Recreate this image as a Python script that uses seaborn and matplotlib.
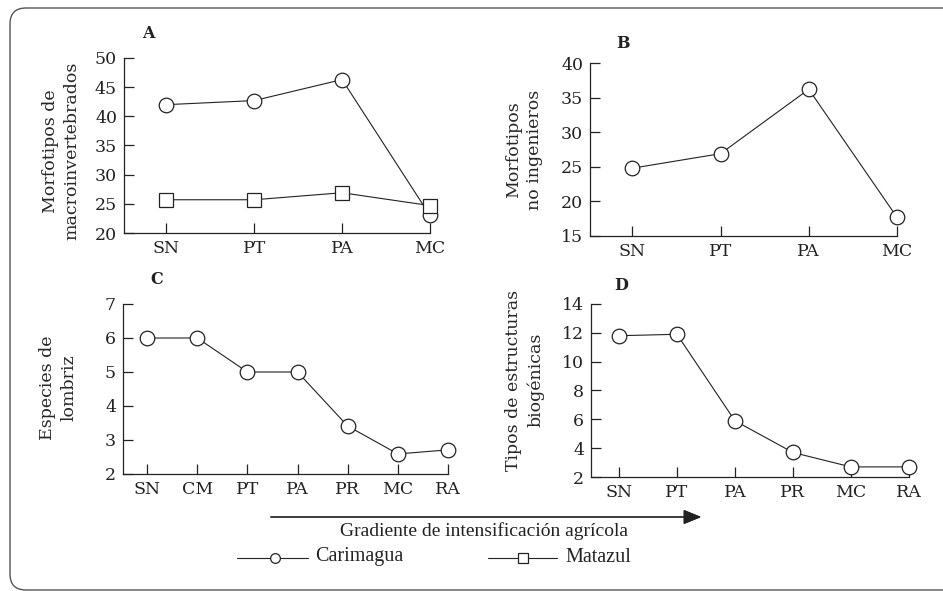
import pandas as pd
import seaborn as sns
import matplotlib.pyplot as plt
from matplotlib.lines import Line2D
from matplotlib.patches import FancyBboxPatch
from matplotlib.transforms import IdentityTransform

sns.set_style("ticks")
plt.rcParams['font.family'] = ['DejaVu Serif']
plt.rcParams['text.color'] = '#222222'

# Datos
sitios_ab = ["SN", "PT", "PA", "MC"]
carimagua_a = [42.0, 42.7, 46.3, 23.0]
matazul_a = [25.7, 25.7, 26.9, 24.7]
carimagua_b = [24.8, 26.9, 36.2, 17.7]

sitios_c = ["SN", "CM", "PT", "PA", "PR", "MC", "RA"]
carimagua_c = [6.0, 6.0, 5.0, 5.0, 3.41, 2.59, 2.71]

sitios_d = ["SN", "PT", "PA", "PR", "MC", "RA"]
carimagua_d = [11.8, 11.9, 5.9, 3.7, 2.7, 2.7]

FS = 12.5
W, H = 943, 591
INK = "#222222"


def fx(px):
    return px / W


def fy(py):
    return 1 - py / H


def make_ax(fig, left, top, right, bottom):
    return fig.add_axes([fx(left), fy(bottom), (right - left) / W, (bottom - top) / H])


def draw_panel(ax, df, ylim, yticks, ylabel, label_px, markers):
    sns.lineplot(data=df, x="sitio", y="valor", hue="serie", style="serie",
                 markers=markers, dashes=False, palette=[INK] * df["serie"].nunique(),
                 linewidth=0.8, markersize=10.5, markerfacecolor="white",
                 markeredgecolor=INK, markeredgewidth=0.9, sort=False,
                 legend=False, ax=ax)
    for ln in ax.lines:
        ln.set_clip_on(False)
    n = df["sitio"].nunique()
    ax.set_xlim(-0.48, n - 1)
    ax.set_ylim(*ylim)
    ax.set_yticks(yticks)
    ax.set_xlabel("")
    ax.set_ylabel(ylabel, fontsize=FS, linespacing=1.35, ha="center", va="center")
    # posicion del rotulo en pixeles de la figura
    bb = ax.get_position()
    lx = (fx(label_px[0]) - bb.x0) / bb.width
    ly = (fy(label_px[1]) - bb.y0) / bb.height
    ax.yaxis.set_label_coords(lx, ly)
    ax.tick_params(direction="in", length=7, width=0.9, colors=INK,
                   labelsize=FS, pad=5)
    sns.despine(ax=ax)
    for s in ["left", "bottom"]:
        ax.spines[s].set_linewidth(0.9)
        ax.spines[s].set_color(INK)


fig = plt.figure(figsize=(W / 100, H / 100), dpi=100)

# A
df_a = pd.DataFrame({
    "sitio": sitios_ab * 2,
    "valor": carimagua_a + matazul_a,
    "serie": ["Carimagua"] * 4 + ["Matazul"] * 4,
})
ax_a = make_ax(fig, 124, 58, 430, 233)
draw_panel(ax_a, df_a, (20, 50), range(20, 51, 5), "Morfotipos de\nmacroinvertebrados",
           (61, 151), {"Carimagua": "o", "Matazul": "s"})

# B
df_b = pd.DataFrame({"sitio": sitios_ab, "valor": carimagua_b, "serie": "Carimagua"})
ax_b = make_ax(fig, 590, 63, 897, 236)
draw_panel(ax_b, df_b, (15, 40), range(15, 41, 5), "Morfotipos\nno ingenieros",
           (524, 150), {"Carimagua": "o"})

# C
df_c = pd.DataFrame({"sitio": sitios_c, "valor": carimagua_c, "serie": "Carimagua"})
ax_c = make_ax(fig, 123, 304, 448, 474)
draw_panel(ax_c, df_c, (2, 7), range(2, 8), "Especies de\nlombriz",
           (58, 388), {"Carimagua": "o"})

# D
df_d = pd.DataFrame({"sitio": sitios_d, "valor": carimagua_d, "serie": "Carimagua"})
ax_d = make_ax(fig, 591, 304, 909, 477)
draw_panel(ax_d, df_d, (2, 14), range(2, 15, 2), "Tipos de estructuras\nbiogénicas",
           (525, 380), {"Carimagua": "o"})

# letras de panel
for txt, x, y in [("A", 148, 33), ("B", 623, 43), ("C", 157, 279), ("D", 621, 286)]:
    fig.text(fx(x), fy(y), txt, fontsize=11.5, fontweight="bold",
             ha="center", va="center")

# flecha del gradiente
fig.add_artist(plt.annotate("", xy=(fx(704), fy(517)), xytext=(fx(268), fy(517)),
                            xycoords="figure fraction", textcoords="figure fraction",
                            arrowprops=dict(arrowstyle="-|>,head_length=1.1,head_width=0.45",
                                            color=INK, lw=0.9)))
fig.text(fx(484), fy(531), "Gradiente de intensificación agrícola",
         fontsize=14, ha="center", va="center", family="Liberation Serif")

# leyenda
for (x0, x1, xm, xt, mk, nombre) in [(237, 308, 275, 315, "o", "Carimagua"),
                                     (488, 557, 523, 565, "s", "Matazul")]:
    fig.add_artist(Line2D([fx(x0), fx(x1)], [fy(558), fy(558)], color=INK, lw=0.8))
    fig.add_artist(Line2D([fx(xm)], [fy(558)], marker=mk, markersize=7,
                          markerfacecolor="white", markeredgecolor=INK,
                          markeredgewidth=0.9, lw=0))
    fig.text(fx(xt), fy(557), nombre, fontsize=14.5, ha="left", va="center",
             family="Liberation Serif")

# marco redondeado
frame = FancyBboxPatch((10, 1), 1000, 582, boxstyle="round,pad=0,rounding_size=16",
                       transform=IdentityTransform(), fill=False,
                       edgecolor="#555555", lw=1.0)
fig.add_artist(frame)

fig.savefig("out.png", dpi=100)
